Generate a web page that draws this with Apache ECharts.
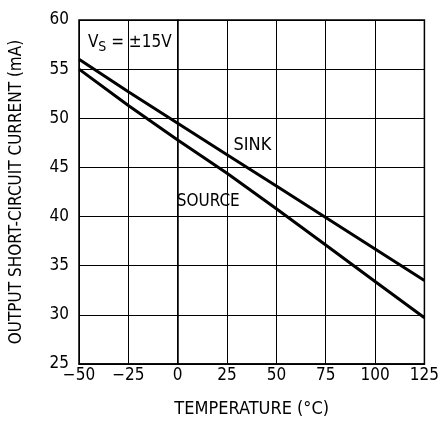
<!DOCTYPE html>
<html>
<head>
<meta charset="utf-8">
<script src="https://cdn.jsdelivr.net/npm/echarts@6/dist/echarts.min.js"></script>
<style>
html,body{margin:0;padding:0;background:#fff;}
#chart{width:442px;height:423px;}
</style>
</head>
<body>
<div id="chart"></div>
<script>
const temperatures = [-50, -25, 0, 25, 50, 75, 100, 125];
const sinkCurrent = [56, 52.7, 49.5, 46.3, 43.1, 39.9, 36.7, 33.5];
const sourceCurrent = [55, 51.3, 47.8, 44.4, 40.8, 37.1, 33.4, 29.7];
const xTicks = [-50, -25, 0, 25, 50, 75, 100, 125];
const yTicks = [25, 30, 35, 40, 45, 50, 55, 60];

const FONT = '"DejaVu Sans Condensed", "Liberation Sans Narrow", "Liberation Sans", sans-serif';

const chart = echarts.init(document.getElementById('chart'), null, {renderer: 'canvas'});

function pairs(xs, ys) { return xs.map((x, i) => [x, ys[i]]); }

const option = {
  animation: false,
  backgroundColor: '#fff',
  grid: {left: 73, right: 16, top: 20, bottom: 52, show: true, borderColor: '#000', borderWidth: 1.5},
  xAxis: {
    type: 'value',
    min: xTicks[0], max: xTicks[xTicks.length - 1], interval: 25,
    name: 'TEMPERATURE (°C)', nameLocation: 'middle', nameGap: 36,
    nameTextStyle: {fontFamily: FONT, fontSize: 18, color: '#000'},
    axisLine: {show: true, lineStyle: {color: '#000', width: 1.5}},
    axisTick: {show: false},
    axisLabel: {fontFamily: FONT, fontSize: 17, color: '#000', margin: 3,
      formatter: v => (v < 0 ? '\u2212' + Math.abs(v) : String(v))},
    splitLine: {show: true, lineStyle: {color: '#000', width: 1}}
  },
  yAxis: {
    type: 'value',
    min: yTicks[0], max: yTicks[yTicks.length - 1], interval: 5,
    name: 'OUTPUT SHORT-CIRCUIT CURRENT (mA)', nameLocation: 'middle', nameGap: 54,
    nameTextStyle: {fontFamily: FONT, fontSize: 17, color: '#000'},
    axisLine: {show: true, lineStyle: {color: '#000', width: 1.5}},
    axisTick: {show: false},
    axisLabel: {fontFamily: FONT, fontSize: 17, color: '#000', margin: 10},
    splitLine: {show: true, lineStyle: {color: '#000', width: 1}}
  },
  series: [
    {name: 'SINK', type: 'line', data: pairs(temperatures, sinkCurrent), showSymbol: false,
     lineStyle: {color: '#000', width: 3}, z: 5},
    {name: 'SOURCE', type: 'line', data: pairs(temperatures, sourceCurrent), showSymbol: false,
     lineStyle: {color: '#000', width: 3}, z: 5}
  ]
};
chart.setOption(option);

function px(x, y) { return chart.convertToPixel({gridIndex: 0}, [x, y]); }
const pV = px(-45.5, 57.66);
const pSink = px(28.3, 47.2);
const pSource = px(-0.5, 41.5);

chart.setOption({
  graphic: [
    {type: 'text', x: pV[0], y: pV[1], z: 10,
     style: {text: '{a|V}{s|S}{a| = \u00b115V}', textVerticalAlign: 'middle', textAlign: 'left',
       rich: {a: {fontFamily: FONT, fontSize: 17, fill: '#000', color: '#000'},
              s: {fontFamily: FONT, fontSize: 14, fill: '#000', color: '#000', padding: [8, 0, 0, 0]}}}},
    {type: 'text', x: pSink[0], y: pSink[1], z: 10,
     style: {text: 'SINK', font: '18px ' + FONT, fill: '#000', textVerticalAlign: 'middle', textAlign: 'left'}},
    {type: 'text', x: pSource[0], y: pSource[1], z: 10,
     style: {text: 'SOURCE', font: '17px ' + FONT, fill: '#000', textVerticalAlign: 'middle', textAlign: 'left'}}
  ]
});
</script>
</body>
</html>
